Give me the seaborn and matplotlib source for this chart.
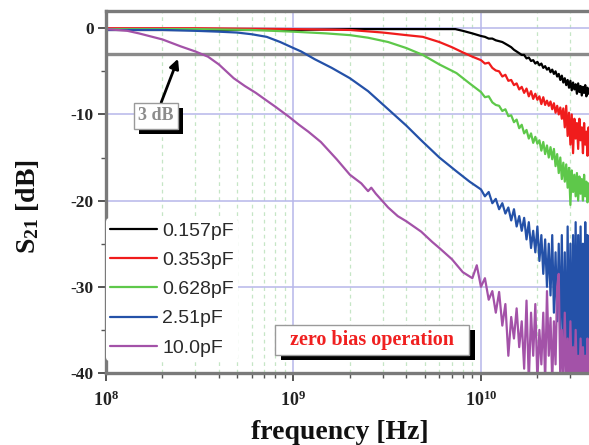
import numpy as np
import pandas as pd
import matplotlib
matplotlib.use("Agg")
import matplotlib.pyplot as plt
import seaborn as sns
from matplotlib.ticker import FixedLocator, FixedFormatter, NullFormatter
from matplotlib import patheffects as pe

# ---------------- data ----------------
labels = ["0.157pF", "0.353pF", "0.628pF", "2.51pF", "10.0pF"]
colors = ["#000000", "#f01c1c", "#5ec84a", "#2451a8", "#a352a8"]

# shared high-frequency sweep (GHz), linear like a VNA sweep
f_hi_ghz = [10.0, 10.5, 11.0, 11.5, 12.0, 12.5, 13.0, 13.5, 14.0, 14.5,
            15.0, 15.5, 16.0, 16.5, 17.0, 17.5, 18.0, 18.5, 19.0, 19.5,
            20.0, 20.5, 21.0, 21.5, 22.0, 22.5, 23.0, 23.5, 24.0, 24.5,
            25.0, 25.5, 26.0, 26.5, 27.0, 27.5, 28.0, 28.5, 29.0, 29.5,
            30.0, 30.5, 31.0, 31.5, 32.0, 32.5, 33.0, 33.5, 34.0, 34.5,
            35.0, 35.5, 36.0, 36.5, 37.0, 37.5, 38.0]

black_f_lo = [0.1, 0.3, 1.0, 2.0, 4.0, 6.0, 7.3, 8.0, 9.0]
black_db_lo = [-0.2, -0.2, -0.2, -0.1, -0.1, -0.1, -0.1, -0.3, -0.6]
black_db_hi = [-0.9, -1.0, -1.2, -1.2, -1.4, -1.5, -1.6, -1.8, -2.0, -2.2,
               -2.5, -2.7, -2.9, -3.1, -3.1, -3.5, -3.4, -3.8, -3.7, -4.1,
               -3.9, -4.3, -4.1, -4.6, -4.4, -4.8, -4.6, -5.1, -4.8, -5.3,
               -5.0, -5.6, -5.3, -6.0, -5.5, -6.3, -5.8, -6.6, -6.0, -6.9,
               -6.1, -7.2, -6.3, -7.1, -6.5, -7.6, -6.4, -7.4, -6.7, -7.8,
               -6.8, -7.5, -6.6, -7.9, -6.9, -7.6, -7.2]

red_f_lo = [0.1, 0.3, 1.0, 2.0, 3.0, 4.0, 4.9, 6.0, 7.0, 8.0, 9.0]
red_db_lo = [0.0, 0.0, -0.1, -0.2, -0.5, -0.8, -1.0, -1.6, -2.2, -2.8, -3.3]
red_db_hi = [-3.7, -4.1, -4.0, -4.6, -4.9, -5.0, -5.6, -5.4, -6.1, -6.0,
             -6.6, -6.4, -7.1, -6.8, -7.5, -7.0, -7.9, -7.3, -8.2, -7.6,
             -8.3, -7.9, -8.8, -8.0, -8.9, -8.4, -9.0, -8.5, -9.4, -8.7,
             -9.8, -9.0, -10.0, -9.2, -10.5, -9.3, -11.5, -9.0, -12.5, -9.8,
             -13.5, -10.0, -14.5, -10.5, -12.8, -11.0, -14.0, -10.5, -13.0, -11.5,
             -14.5, -11.0, -13.5, -12.0, -14.8, -11.5, -13.0]

green_f_lo = [0.1, 0.3, 0.6, 1.0, 1.5, 2.0, 2.5, 3.2, 4.0, 4.9, 6.0, 7.4, 8.7]
green_db_lo = [-0.1, -0.1, -0.2, -0.4, -0.6, -0.8, -1.1, -1.6, -2.3, -3.1, -4.2, -5.2, -6.4]
green_db_hi = [-7.4, -8.0, -7.9, -8.6, -8.9, -9.0, -9.6, -9.4, -10.2, -10.1,
               -10.9, -10.6, -11.6, -11.2, -12.2, -11.8, -12.8, -12.2, -13.3, -12.6,
               -13.4, -13.0, -14.2, -13.2, -14.6, -13.6, -15.0, -13.8, -15.2, -14.0,
               -16.0, -14.6, -16.8, -15.0, -17.5, -15.6, -17.8, -15.8, -18.5, -16.2,
               -20.5, -16.5, -19.0, -17.0, -19.5, -16.8, -20.0, -17.2, -19.2, -17.5,
               -20.0, -17.0, -19.5, -17.8, -20.2, -18.0, -19.5]

blue_f_lo = [0.1, 0.2, 0.3, 0.4, 0.5, 0.6, 0.72, 0.85, 1.0, 1.1, 1.3, 1.6,
             2.0, 2.5, 3.2, 4.0, 4.8, 6.0, 7.4, 8.7]
blue_db_lo = [-0.2, -0.2, -0.3, -0.4, -0.5, -0.7, -1.0, -1.6, -2.3, -2.7, -3.6, -4.6,
              -5.8, -7.3, -9.4, -11.3, -13.0, -15.0, -16.6, -17.8]
blue_db_hi = [-18.7, -19.5, -19.0, -20.3, -19.8, -21.0, -20.3, -21.5, -20.8, -22.3,
              -21.0, -23.0, -21.8, -23.5, -22.0, -24.5, -22.5, -25.5, -23.5, -26.0,
              -23.0, -27.0, -24.0, -28.5, -24.5, -30.0, -25.0, -31.0, -24.0, -33.0,
              -26.0, -34.0, -25.0, -36.0, -24.0, -38.0, -26.0, -41.0, -23.0, -39.0,
              -25.0, -41.0, -24.0, -37.0, -22.5, -41.0, -24.0, -39.0, -23.0, -41.0,
              -25.0, -38.0, -22.5, -41.0, -24.0, -36.0, -28.0]

purple_f_lo = [0.1, 0.13, 0.15, 0.2, 0.25, 0.3, 0.35, 0.4, 0.48, 0.55, 0.63, 0.72,
               0.8, 0.95, 1.07, 1.2, 1.4, 1.7, 2.0, 2.3, 2.5, 2.6, 2.75, 3.2, 3.6,
               4.0, 4.8, 5.5, 6.0, 7.0, 8.0, 9.0, 9.5]
purple_db_lo = [-0.1, -0.3, -0.6, -1.3, -2.1, -2.7, -3.3, -4.2, -5.8, -6.7, -7.5, -8.4,
                -9.1, -10.3, -11.2, -12.0, -13.2, -15.2, -17.0, -18.0, -18.9, -18.5, -19.2, -20.8, -21.8,
                -22.4, -23.6, -24.8, -25.5, -26.8, -28.3, -29.0, -27.5]
purple_db_hi = [-30.0, -29.0, -31.5, -30.5, -33.0, -30.6, -34.5, -32.0, -38.0, -33.5,
                -36.0, -32.5, -37.0, -34.0, -39.5, -31.6, -41.0, -33.0, -38.0, -32.0,
                -41.0, -35.0, -39.0, -33.0, -41.0, -30.5, -38.0, -33.6, -41.0, -34.0,
                -39.0, -30.0, -28.5, -41.0, -35.0, -41.0, -33.0, -41.0, -36.0, -41.0,
                -34.0, -41.0, -37.0, -41.0, -35.0, -41.0, -38.0, -41.0, -36.0, -41.0,
                -37.0, -41.0, -38.0, -41.0, -36.0, -41.0, -39.0]

curves = [
    (labels[0], black_f_lo, black_db_lo, black_db_hi),
    (labels[1], red_f_lo, red_db_lo, red_db_hi),
    (labels[2], green_f_lo, green_db_lo, green_db_hi),
    (labels[3], blue_f_lo, blue_db_lo, blue_db_hi),
    (labels[4], purple_f_lo, purple_db_lo, purple_db_hi),
]
rows = []
for lab, flo, dlo, dhi in curves:
    for f, d in zip(flo + f_hi_ghz, dlo + dhi):
        rows.append({"freq": f * 1e9, "S21": d, "cap": lab})
df = pd.DataFrame(rows)

# ---------------- style ----------------
sns.set_theme(style="white")
plt.rcParams["font.family"] = ["Liberation Serif", "DejaVu Serif"]
plt.rcParams["mathtext.fontset"] = "custom"
plt.rcParams["mathtext.rm"] = "Liberation Serif:bold"
plt.rcParams["mathtext.bf"] = "Liberation Serif:bold"
plt.rcParams["mathtext.it"] = "Liberation Serif:bold"
plt.rcParams["axes.unicode_minus"] = False

fig = plt.figure(figsize=(5.89, 4.45), dpi=100)
ax = fig.add_axes([106 / 589, 1 - 373 / 445, 483 / 589, 362 / 445])

ax.set_xscale("log")
ax.set_xlim(1e8, 3.77e10)
ax.set_ylim(-40, 2)

ax.xaxis.set_major_locator(FixedLocator([1e8, 1e9, 1e10]))
ax.xaxis.set_major_formatter(FixedFormatter(["$10^{8}$", "$10^{9}$", "$10^{10}$"]))
minor_x = [m * 10 ** e for e in (8, 9, 10) for m in range(2, 10) if m * 10 ** e < 3.77e10]
ax.xaxis.set_minor_locator(FixedLocator(minor_x))
ax.xaxis.set_minor_formatter(NullFormatter())
ax.yaxis.set_major_locator(FixedLocator([0, -10, -20, -30, -40]))
ax.yaxis.set_minor_locator(FixedLocator([-5, -15, -25, -35]))

ax.grid(True, which="major", color="#b7b7ea", lw=1.1, ls="-")
ax.grid(True, which="minor", axis="x", color="#c6e6c6", lw=0.9, ls=(0, (3, 3)))
ax.set_axisbelow(True)

# 3 dB reference line
ax.axhline(-3, color="#8a8a8a", lw=2.4, zorder=1.5)

sns.lineplot(data=df, x="freq", y="S21", hue="cap", hue_order=labels,
             palette=colors, estimator=None, sort=False, lw=1.6, ax=ax, legend=True)

for s in ["left", "bottom", "top"]:
    ax.spines[s].set_color("#7a7a7a")
    ax.spines[s].set_linewidth(2.4)
ax.spines["right"].set_visible(False)

ax.tick_params(axis="both", which="major", direction="out", length=6, width=1.4,
               color="#555555", pad=3, left=True, bottom=True)
ax.tick_params(axis="y", which="major", labelsize=12.5)
ax.tick_params(axis="x", which="major", labelsize=13, pad=7)
ax.tick_params(axis="both", which="minor", direction="out", length=3.5, width=1.0,
               color="#555555", left=True, bottom=True)
for t in ax.get_yticklabels() + ax.get_xticklabels():
    t.set_fontweight("bold")
    t.set_color("#222222")

ax.set_xlabel("frequency [Hz]", fontsize=20, fontweight="bold", color="#111111")
ax.set_ylabel("S$_{21}$ [dB]", fontsize=20, fontweight="bold", color="#111111")
ax.xaxis.set_label_coords(0.484, -0.13)
ax.yaxis.set_label_coords(-0.135, 0.46)

# legend
leg = ax.legend(loc="upper left", bbox_to_anchor=(0.0, 0.428), frameon=True,
                facecolor="white", edgecolor="none", framealpha=1.0,
                prop={"family": "Liberation Sans", "size": 14},
                handlelength=2.4, handletextpad=0.3, labelspacing=0.6,
                borderpad=0.2, borderaxespad=0.0)
for t in leg.get_texts():
    t.set_color("#2a2a2a")
for h in leg.get_lines():
    h.set_linewidth(1.6)

# 3 dB annotation
ann = ax.annotate("3 dB", xy=(0.149, 0.868), xycoords="axes fraction",
                  xytext=(0.1035, 0.71), textcoords="axes fraction",
                  ha="center", va="center", fontsize=13, fontweight="bold",
                  color="#8c8c8c",
                  bbox=dict(boxstyle="square,pad=0.25", fc="white", ec="#9a9a9a", lw=1),
                  arrowprops=dict(arrowstyle="-|>", color="black", lw=2,
                                  mutation_scale=14, shrinkA=0, shrinkB=0),
                  zorder=6)
ann.get_bbox_patch().set_path_effects([
    pe.SimplePatchShadow(offset=(3.5, -3.5), shadow_rgbFace="black", alpha=1.0),
    pe.Normal()])

zb = ax.text(0.551, 0.091, "  zero bias operation  ", transform=ax.transAxes,
             ha="center", va="center", fontsize=14.5, fontweight="bold", color="#f02020",
             bbox=dict(boxstyle="square,pad=0.25", fc="white", ec="#9a9a9a", lw=1),
             zorder=6)
zb.get_bbox_patch().set_path_effects([
    pe.SimplePatchShadow(offset=(4, -3.5), shadow_rgbFace="black", alpha=1.0),
    pe.Normal()])

fig.savefig("out.png", dpi=100)
